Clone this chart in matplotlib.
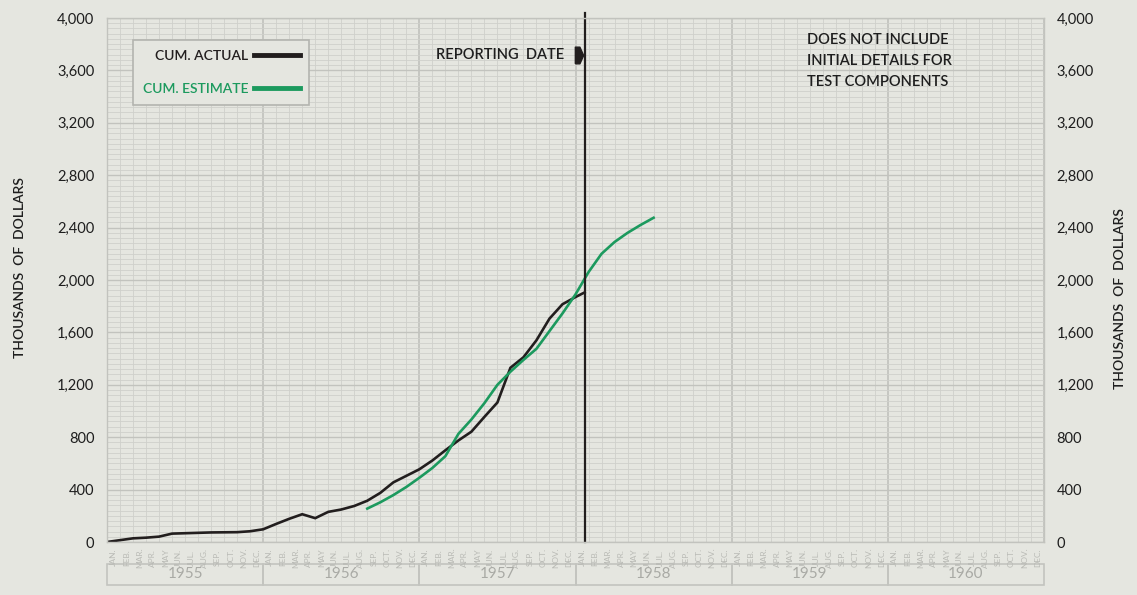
import matplotlib
matplotlib.use("Agg")
import matplotlib.pyplot as plt
from matplotlib.ticker import MultipleLocator, FuncFormatter
from matplotlib.patches import Rectangle
from matplotlib.path import Path
import matplotlib.transforms as mtransforms

plt.rcParams["font.family"] = ["Lato", "DejaVu Sans"]

# months counted from start of Jan 1955
actual_months = list(range(37)) + [36.7]
actual_values = [0, 14, 28, 33, 41, 64, 67, 70, 73, 74, 75, 82,
                 97, 138, 177, 212, 182, 230, 248, 275, 315, 375, 455, 505,
                 555, 622, 700, 775, 842, 955, 1065, 1330, 1410, 1540, 1705, 1815,
                 1870, 1905]

estimate_months = list(range(20, 43))
estimate_values = [255, 303, 358, 420, 490, 565, 655, 825, 935, 1060, 1200, 1300,
                   1390, 1475, 1610, 1745, 1890, 2060, 2200, 2290, 2360, 2420, 2475]

years = ["1955", "1956", "1957", "1958", "1959", "1960"]
month_names = ["JAN.", "FEB.", "MAR.", "APR.", "MAY", "JUN.",
               "JUL.", "AUG.", "SEP.", "OCT.", "NOV.", "DEC."]
report_month = 36.7
note_lines = ["DOES NOT INCLUDE", "INITIAL DETAILS FOR", "TEST COMPONENTS"]

bg = "#e5e6e0"
green = "#1c9a5e"
black = "#221e1e"
ink = "#1e1e1e"

W, H = 1137, 595
fig = plt.figure(figsize=(W / 100, H / 100), dpi=100, facecolor=bg)
ax = fig.add_axes([107 / W, 1 - 542 / H, (1044 - 107) / W, (542 - 18) / H])
ax.set_facecolor(bg)
ax.set_xlim(0, 72)
ax.set_ylim(0, 4000)

# graph paper grid
ax.xaxis.set_major_locator(MultipleLocator(12))
ax.xaxis.set_minor_locator(MultipleLocator(1))
ax.yaxis.set_major_locator(MultipleLocator(400))
ax.yaxis.set_minor_locator(MultipleLocator(40))
ax.grid(which="minor", color="#cfd0cb", lw=0.6)
ax.grid(which="major", axis="y", color="#c2c3be", lw=1.0)
ax.grid(which="major", axis="x", color="#bdbeb9", lw=1.1)
ax.set_axisbelow(True)
for s in ax.spines.values():
    s.set_color("#c2c3be")
    s.set_linewidth(1.0)

ax.tick_params(axis="x", which="both", length=0, labelbottom=False)
ax.tick_params(axis="y", which="both", length=0, labelright=True, right=False,
               labelsize=10.5, pad=9, labelcolor=ink)
ax.yaxis.set_major_formatter(FuncFormatter(lambda v, p: f"{int(v):,}"))

ax.plot(actual_months, actual_values, color=black, lw=1.9, label="CUM. ACTUAL",
        solid_joinstyle="miter")
ax.plot(estimate_months, estimate_values, color=green, lw=1.9, label="CUM. ESTIMATE")

# reporting date
ax.axvline(report_month, color=black, lw=1.6, ymax=1.01, clip_on=False)
trans = mtransforms.blended_transform_factory(ax.transData, ax.transAxes)
ax.text(report_month - 1.55, 0.929, "REPORTING  DATE", transform=trans, ha="right",
        va="center", fontsize=10.5, color=ink, fontweight="semibold")
pointer = Path([(-0.5, -1), (0.05, -1), (0.5, 0), (0.05, 1), (-0.5, 1), (-0.5, -1)])
ax.plot([report_month - 0.45], [0.929], transform=trans, marker=pointer,
        markersize=12, color=black, clip_on=False)

ax.text(0.747, 0.918, "\n".join(note_lines), transform=ax.transAxes, ha="left",
        va="center", fontsize=10.5, linespacing=1.62, color=ink, fontweight="semibold")

leg = ax.legend(loc="upper left", bbox_to_anchor=(0.0277, 0.958), borderaxespad=0,
                markerfirst=False, handlelength=3.3, handletextpad=0.4,
                prop={"size": 10, "weight": "semibold"}, labelcolor="linecolor",
                fancybox=False, facecolor=bg, framealpha=1, edgecolor="#b3b4af",
                borderpad=0.7, labelspacing=1.55)
leg.get_frame().set_linewidth(1.2)
for ln in leg.get_lines():
    ln.set_linewidth(3.5)

# month and year labels under the grid
for i, yr in enumerate(years):
    for j, mn in enumerate(month_names):
        ax.text(12 * i + j + 0.5, -0.03, mn, transform=trans, rotation=90,
                ha="center", va="center", fontsize=6, color="#b9bab5")
    ax.add_patch(Rectangle((12 * i, -0.082), 12, 0.04, transform=trans,
                           fill=False, edgecolor="#c3c4bf", lw=1.2, clip_on=False))
    ax.text(12 * i + 6, -0.062, yr, transform=trans, ha="center", va="center",
            fontsize=11, color="#a9aaa5")

fig.text(20 / W, 1 - 268 / H, "THOUSANDS  OF  DOLLARS", rotation=90, ha="center",
         va="center", fontsize=10, color=ink, fontweight="semibold")
fig.text(1120 / W, 1 - 299 / H, "THOUSANDS  OF  DOLLARS", rotation=90, ha="center",
         va="center", fontsize=10, color=ink, fontweight="semibold")

fig.savefig("out.png", dpi=100, facecolor=bg)
